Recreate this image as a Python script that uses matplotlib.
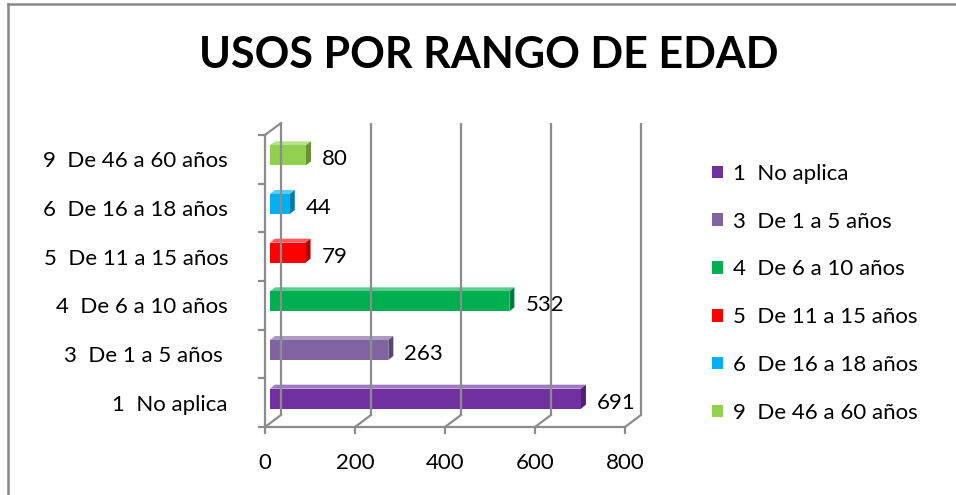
import matplotlib
matplotlib.use("Agg")

import matplotlib.pyplot as plt
from matplotlib.patches import Polygon, Patch
from matplotlib.lines import Line2D

plt.rcParams['font.family'] = ['Lato', 'DejaVu Sans']

# data, bottom to top as drawn
categories = ["1  No aplica", "3  De 1 a 5 años ", "4  De 6 a 10 años",
              "5  De 11 a 15 años", "6  De 16 a 18 años", "9  De 46 a 60 años"]
values = [691, 263, 532, 79, 44, 80]
colors = ["#7030A0", "#8064A2", "#00B050", "#FF0000", "#00B0F0", "#92D050"]
xticks = [0, 200, 400, 600, 800]
title = "USOS POR RANGO DE EDAD"

W, H = 956, 495
DPI = 100
FS = 16
fig = plt.figure(figsize=(W / DPI, H / DPI), dpi=DPI)

# front frame of the 3d plot area, in pixels from top-left
AX_L, AX_R, AX_T, AX_B = 265, 625, 135, 427
ax = fig.add_axes([AX_L / W, 1 - AX_B / H, (AX_R - AX_L) / W, (AX_B - AX_T) / H])
XMAX = xticks[-1]
ax.set_xlim(0, XMAX)
ax.set_ylim(-0.5, len(categories) - 0.5)
ax.axis('off')

ux = XMAX / (AX_R - AX_L)
uy = len(categories) / (AX_B - AX_T)


def off(dx, dy):
    # pixel offset -> data offset (dy positive = up)
    return dx * ux, dy * uy


def shade(c, f):
    c = matplotlib.colors.to_rgb(c)
    if f > 1:
        return tuple(min(1, x + (1 - x) * (f - 1)) for x in c)
    return tuple(x * f for x in c)


GRID = "#8c8c8c"
ybot, ytop = -0.5, len(categories) - 0.5
bx, by = off(16, 12)

# back wall gridlines + floor diagonals
for v in xticks:
    ax.plot([v + bx, v + bx], [ybot + by, ytop + by], color=GRID, lw=1.6,
            clip_on=False, solid_capstyle='butt')
    ax.plot([v, v + bx], [ybot, ybot + by], color=GRID, lw=1.6, clip_on=False)
# left wall top diagonal
ax.plot([0, bx], [ytop, ytop + by], color=GRID, lw=1.6, clip_on=False)
# front axes
ax.plot([0, 0], [ybot, ytop], color=GRID, lw=1.6, clip_on=False)
ax.plot([0, XMAX], [ybot, ybot], color=GRID, lw=1.6, clip_on=False)
tx, _ = off(6, 0)
for k in range(len(categories) + 1):
    yk = ybot + k
    ax.plot([-tx, 0], [yk, yk], color=GRID, lw=1.6, clip_on=False)
_, ty = off(0, 6)
for v in xticks:
    ax.plot([v, v], [ybot, ybot - ty], color=GRID, lw=1.6, clip_on=False)
    ax.text(v, ybot - 36 * uy, str(v), ha='center', va='center', fontsize=FS)

# bars
fx, fy = off(5, 4)
dx, dy = off(5, 4)
bh = 20 * uy
for i, (v, c) in enumerate(zip(values, colors)):
    y0 = i - bh / 2 + fy
    y1 = i + bh / 2 + fy
    x0 = fx
    x1 = v + fx
    front = [(x0, y0), (x1, y0), (x1, y1), (x0, y1)]
    top = [(x0, y1), (x1, y1), (x1 + dx, y1 + dy), (x0 + dx, y1 + dy)]
    side = [(x1, y0), (x1 + dx, y0 + dy), (x1 + dx, y1 + dy), (x1, y1)]
    ax.add_patch(Polygon(top, closed=True, fc=shade(c, 1.35), ec='none', clip_on=False))
    ax.add_patch(Polygon(side, closed=True, fc=shade(c, 0.7), ec='none', clip_on=False))
    ax.add_patch(Polygon(front, closed=True, fc=c, ec='none', clip_on=False))
    lx, _ = off(21, 0)
    ax.text(v + lx, i, str(v), ha='left', va='center', fontsize=FS)
    ax.text(-37 * ux, i - 2 * uy, categories[i], ha='right', va='center', fontsize=FS)

# legend, top to bottom in category order
handles = [Patch(fc=c, ec='none') for c in colors]
fig.legend(handles, categories, loc='upper left',
           bbox_to_anchor=(703 / W, 1 - 155 / H), frameon=False, fontsize=FS,
           handlelength=0.5, handleheight=0.5, handletextpad=0.45,
           labelspacing=1.25, borderaxespad=0)

fig.text(489 / W, 1 - 55 / H, title, ha='center', va='center',
         fontsize=31, fontweight='bold')

# outer border (top and left visible)
fig.add_artist(Line2D([8 / W, 1], [1 - 4 / H, 1 - 4 / H], color="#888888", lw=1.8,
                      transform=fig.transFigure))
fig.add_artist(Line2D([8 / W, 8 / W], [0, 1 - 4 / H], color="#888888", lw=1.8,
                      transform=fig.transFigure))

fig.savefig("out.png", dpi=DPI, facecolor='white')
